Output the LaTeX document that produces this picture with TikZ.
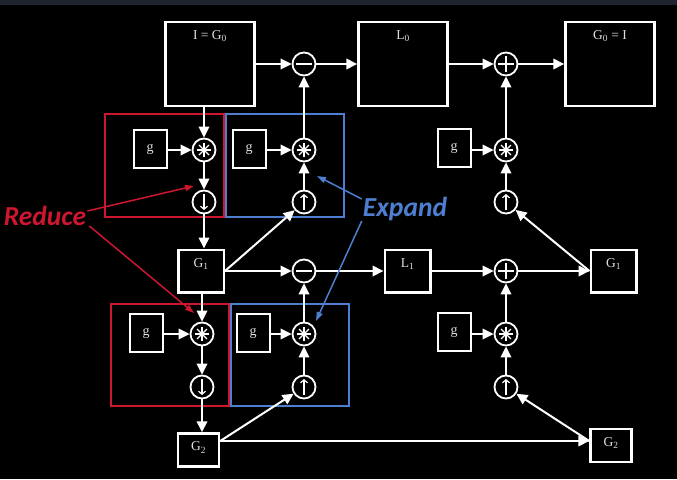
\documentclass[tikz,border=0pt]{standalone}
\usepackage{fontspec}
\setmainfont{Liberation Serif}
\newfontfamily\calloutfont{Carlito}
\usetikzlibrary{arrows.meta,positioning}
\definecolor{reducered}{RGB}{205,22,48}
\definecolor{expandblue}{RGB}{78,126,208}
\definecolor{topstrip}{RGB}{30,37,47}

\begin{document}
\begin{tikzpicture}[
    x=1pt, y=-1pt,
    imgbox/.style={draw=white, line width=2.5pt, minimum width=89pt, minimum height=84pt, inner sep=0pt},
    smallbox/.style={draw=white, line width=2.5pt, minimum width=45.5pt, minimum height=42.5pt, inner sep=0pt},
    lowbox/.style={draw=white, line width=2.5pt, minimum width=41pt, minimum height=33pt, inner sep=0pt},
    gbox/.style={draw=white, line width=2pt, minimum width=33pt, minimum height=38pt, inner sep=0pt, text=white!88!black, font=\fontsize{14}{16}\selectfont},
    boxlabel/.style={inner sep=0pt, text=white!88!black, font=\fontsize{13.5}{16}\selectfont},
    opnode/.style={circle, draw=white, line width=1.8pt, minimum size=23pt, inner sep=0pt},
    subop/.style={opnode, path picture={\draw[white, line width=1.8pt] ([xshift=-8pt]path picture bounding box.center) -- ([xshift=8pt]path picture bounding box.center);}},
    addop/.style={opnode, path picture={\draw[white, line width=1.8pt] ([xshift=-8pt]path picture bounding box.center) -- ([xshift=8pt]path picture bounding box.center) ([yshift=-8pt]path picture bounding box.center) -- ([yshift=8pt]path picture bounding box.center);}},
    convop/.style={opnode, path picture={\foreach \ang in {0,45,90,135} \draw[white, line width=1.1pt] ([shift={(\ang:7pt)}]path picture bounding box.center) -- ([shift={(\ang+180:7pt)}]path picture bounding box.center);}},
    upop/.style={opnode, path picture={\draw[white, line width=1.2pt, -{Straight Barb[length=3pt, width=7pt]}] ([yshift=-8pt]path picture bounding box.center) -- ([yshift=8pt]path picture bounding box.center);}},
    downop/.style={opnode, path picture={\draw[white, line width=1.2pt, -{Straight Barb[length=3pt, width=7pt]}] ([yshift=8pt]path picture bounding box.center) -- ([yshift=-8pt]path picture bounding box.center);}},
    arrow/.style={draw=white, line width=2pt, -{Triangle[length=11pt, width=10.5pt]}},
    redarrow/.style={draw=reducered, line width=1.5pt, -{Triangle[length=9pt, width=6pt]}},
    bluearrow/.style={draw=expandblue, line width=1.5pt, -{Triangle[length=9pt, width=6pt]}},
    callout/.style={inner sep=1pt, font=\calloutfont\bfseries\itshape\fontsize{27.5}{31}\selectfont}
  ]
  \fill[black] (0,0) rectangle (677,479);
  \fill[topstrip] (0,0) rectangle (677,5);
  \useasboundingbox (0,0) rectangle (677,479);

  % reduce / expand frames
  \draw[reducered, line width=2pt] (105,114) rectangle (224,217);
  \draw[expandblue, line width=2pt] (226,114) rectangle (344,217);
  \draw[reducered, line width=2pt] (111,304) rectangle (229,406);
  \draw[expandblue, line width=2pt] (231,304) rectangle (349,406);

  % level 0
  \node[imgbox] (img0) at (210,64) {};
  \node[boxlabel, below=9.5pt of img0.north] (img0lbl) {I = G\textsubscript{0}};
  \node[subop] (m0) at (304,64) {};
  \node[imgbox] (L0) at (403,64) {};
  \node[boxlabel, below=9.5pt of L0.north] (L0lbl) {L\textsubscript{0}};
  \node[addop] (p0) at (506,64) {};
  \node[imgbox] (img0r) at (610,64) {};
  \node[boxlabel, below=9.5pt of img0r.north] (img0rlbl) {G\textsubscript{0} = I};

  \node[gbox] (gA) at (150,149) {g};
  \node[convop] (cvA) at (204,150) {};
  \node[downop] (dnA) at (204,202) {};
  \node[gbox] (gB) at (249,149) {g};
  \node[convop] (cvB) at (304,150) {};
  \node[upop] (upB) at (304,202) {};
  \node[gbox] (gC) at (454,148) {g};
  \node[convop] (cvC) at (506,150) {};
  \node[upop] (upC) at (506,202) {};

  % level 1
  \node[smallbox] (G1) at (201,271) {};
  \node[boxlabel, below=9.5pt of G1.north] (G1lbl) {G\textsubscript{1}};
  \node[subop] (m1) at (304,271) {};
  \node[smallbox] (L1) at (407.5,271) {};
  \node[boxlabel, below=9.5pt of L1.north] (L1lbl) {L\textsubscript{1}};
  \node[addop] (p1) at (506,271) {};
  \node[smallbox] (G1r) at (613.5,271) {};
  \node[boxlabel, below=9.5pt of G1r.north] (G1rlbl) {G\textsubscript{1}};

  \node[gbox] (gD) at (146,333) {g};
  \node[convop] (cvD) at (202,334) {};
  \node[downop] (dnD) at (202,387) {};
  \node[gbox] (gE) at (253,333) {g};
  \node[convop] (cvE) at (304,334) {};
  \node[upop] (upE) at (304,387) {};
  \node[gbox] (gF) at (454,332) {g};
  \node[convop] (cvF) at (506,334) {};
  \node[upop] (upF) at (506,387) {};

  % level 2
  \node[lowbox] (G2) at (198.5,450) {};
  \node[boxlabel, below=9.5pt of G2.north] (G2lbl) {G\textsubscript{2}};
  \node[lowbox] (G2r) at (611,445.5) {};
  \node[boxlabel, below=9.5pt of G2r.north] (G2rlbl) {G\textsubscript{2}};

  % connectors
  \draw[arrow] (img0) -- (m0);
  \draw[arrow] (m0) -- (L0);
  \draw[arrow] (L0) -- (p0);
  \draw[arrow] (p0) -- (img0r);
  \draw[arrow] (cvA |- img0.south) -- (cvA);
  \draw[arrow] (gA.east |- cvA) -- (cvA);
  \draw[arrow] (cvA) -- (dnA);
  \draw[arrow] (dnA) -- (dnA |- G1.north);
  \draw[arrow] (upB) -- (cvB);
  \draw[arrow] (gB.east |- cvB) -- (cvB);
  \draw[arrow] (cvB) -- (m0);
  \draw[arrow] (upC) -- (cvC);
  \draw[arrow] (gC.east |- cvC) -- (cvC);
  \draw[arrow] (cvC) -- (p0);

  \draw[arrow] (G1) -- (m1);
  \draw[arrow] (G1.east) -- (upB);
  \draw[arrow] (m1) -- (L1);
  \draw[arrow] (L1) -- (p1);
  \draw[arrow] (p1) -- (G1r);
  \draw[arrow] (G1r.west) -- (upC);
  \draw[arrow] (cvD |- G1.south) -- (cvD);
  \draw[arrow] (gD.east |- cvD) -- (cvD);
  \draw[arrow] (cvD) -- (dnD);
  \draw[arrow] (dnD) -- (dnD |- G2.north);
  \draw[arrow] (upE) -- (cvE);
  \draw[arrow] (gE.east |- cvE) -- (cvE);
  \draw[arrow] (cvE) -- (m1);
  \draw[arrow] (upF) -- (cvF);
  \draw[arrow] (gF.east |- cvF) -- (cvF);
  \draw[arrow] (cvF) -- (p1);

  \draw[arrow] ([yshift=9pt]G2.east) -- ([yshift=4.5pt]G2r.west);
  \draw[arrow] ([yshift=9pt]G2.east) -- (upE);
  \draw[arrow] ([yshift=4.5pt]G2r.west) -- (upF);

  % callouts
  \node[callout, text=reducered] (reduce) at (45,216) {Reduce};
  \node[callout, text=expandblue] (expand) at (405,209) {Expand};
  \coordinate (redtipA) at (194,186);
  \coordinate (redtipD) at (194,313);
  \coordinate (bluetipB) at (317,176);
  \coordinate (bluetipE) at (316,321);
  \draw[redarrow] ([yshift=5pt]reduce.east) -- (redtipA);
  \draw[redarrow] ([xshift=2pt, yshift=-10pt]reduce.east) -- (redtipD);
  \draw[bluearrow] ([yshift=10pt]expand.west) -- (bluetipB);
  \draw[bluearrow] ([yshift=-12pt]expand.west) -- (bluetipE);
\end{tikzpicture}
\end{document}
